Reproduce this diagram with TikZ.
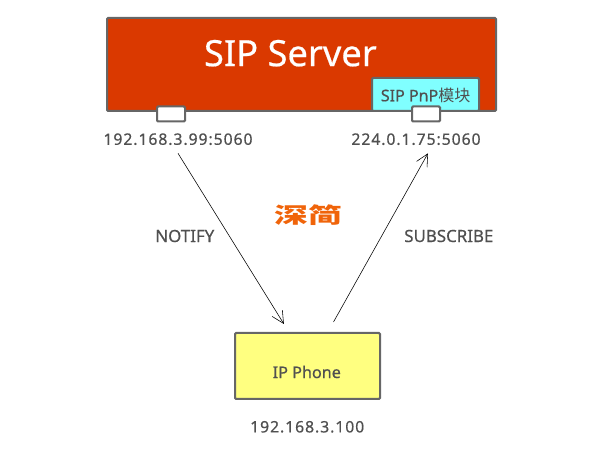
\documentclass[tikz,border=0pt]{standalone}
\usepackage{fontspec}
\setmainfont{Noto Sans}[FakeBold=0.5]
\newfontfamily\cjkfont{Noto Sans CJK SC}
\usetikzlibrary{positioning,calc,arrows.meta}
\definecolor{edgegray}{HTML}{666666}
\definecolor{textgray}{HTML}{505050}
\tikzset{
    boxnode/.style={draw=edgegray, line width=0.05cm, rounded corners=0.8pt, inner sep=0pt},
    portnode/.style={boxnode, fill=white, minimum width=0.7cm, minimum height=0.375cm},
    addrnode/.style={text=textgray, font=\fontsize{11.2}{13}\selectfont\addfontfeatures{LetterSpace=6}, inner sep=0pt},
    labelnode/.style={text=textgray, font=\fontsize{12}{14}\selectfont, inner sep=0pt},
    msgarrow/.style={-{Straight Barb[length=0.3cm,width=0.3cm]}, line width=0.4pt, black}
}
\begin{document}
\begin{tikzpicture}
    \useasboundingbox (0,0) rectangle (15,11.25);

    % Server with its module and ports
    \node[boxnode, fill={rgb,255:red,218;green,57;blue,0}, minimum width=9.725cm, minimum height=2.325cm] (server) at (7.5375,9.6375) {};
    \node[text=white, font=\fontsize{25.8}{30}\selectfont, inner sep=0pt] (servername) at (7.26,9.92) {SIP Server};
    \node[boxnode, fill={rgb,255:red,128;green,255;blue,255}, minimum width=2.675cm, minimum height=0.825cm] (pnp) at (10.6375,8.8875) {};
    \node[labelnode, font=\fontsize{11.4}{13}\selectfont] (pnplabel) at (10.64,8.87) {SIP PnP{\cjkfont 模块}};
    \node[portnode] (portl) at (4.275,8.4) {};
    \node[portnode] (portr) at (10.65,8.4) {};

    % Addresses
    \node[addrnode] (addrl) at (4.45,7.77) {192.168.3.99:5060};
    \node[addrnode] (addrr) at (10.4,7.77) {224.0.1.75:5060};

    \node[text={rgb,255:red,240;green,100;blue,10}, font=\cjkfont\bfseries\fontsize{15.5}{18}\selectfont, inner sep=0pt, xscale=1.55, transform shape] (logo) at (7.7,5.875) {深简};

    % Phone
    \node[boxnode, fill={rgb,255:red,255;green,255;blue,128}, minimum width=3.625cm, minimum height=1.65cm] (phone) at (7.6875,2.1) {};
    \node[labelnode, font=\fontsize{11.5}{14}\selectfont] (phonename) at (7.67,1.95) {IP Phone};
    \node[addrnode] (addrp) at (7.68,0.58) {192.168.3.100};

    % Messages
    \draw[msgarrow] ([yshift=-0.2cm]addrl.south) -- ([xshift=-0.59cm,yshift=0.2cm]phone.north);
    \draw[msgarrow] ([xshift=0.65cm,yshift=0.25cm]phone.north) -- ([xshift=0.3cm,yshift=-0.2cm]addrr.south);
    \node[labelnode] (notify) at (4.62,5.35) {NOTIFY};
    \node[labelnode] (subscribe) at (11.22,5.35) {SUBSCRIBE};
\end{tikzpicture}
\end{document}
